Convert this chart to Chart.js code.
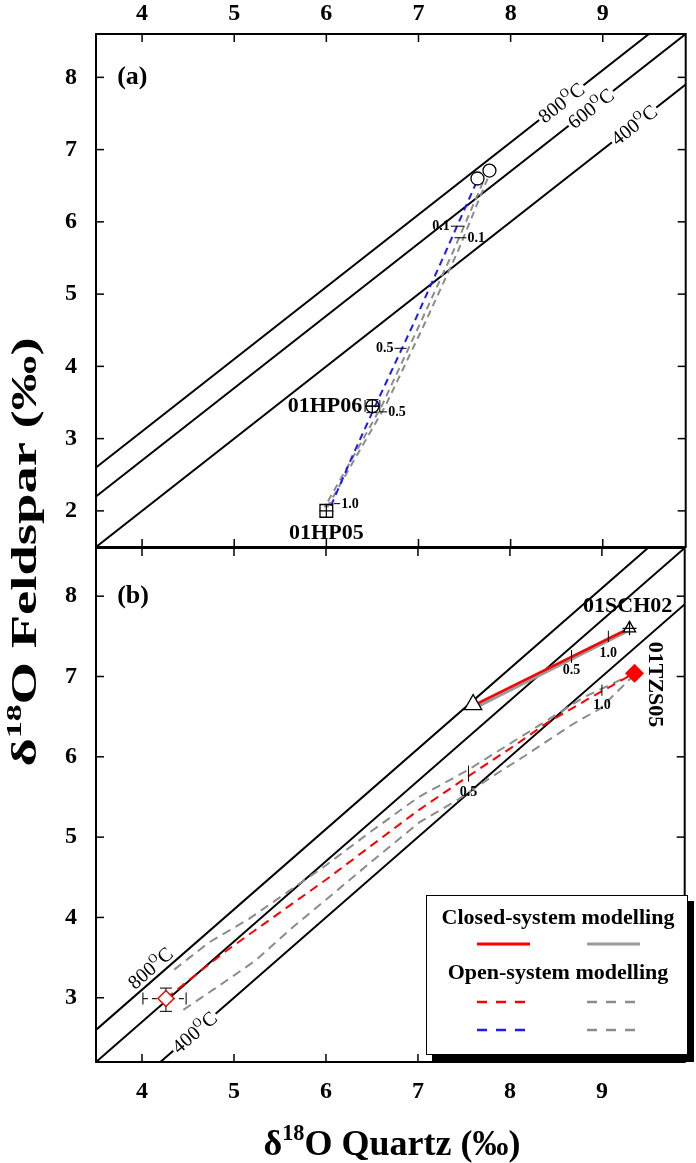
<!DOCTYPE html>
<html><head><meta charset="utf-8">
<script src="https://cdn.jsdelivr.net/npm/chart.js@4.4.1/dist/chart.umd.min.js"></script>
<style>
html,body{margin:0;padding:0;background:#fff;}
#wrap{position:relative;width:696px;height:1163px;overflow:hidden;}
canvas{position:absolute;left:0;top:0;}
</style></head><body>
<div id="wrap"><canvas id="ca" width="696" height="1163"></canvas><canvas id="cb" width="696" height="1163"></canvas></div>
<script>
// ---------- data ----------
const xTicks = [4, 5, 6, 7, 8, 9];
const yTicksA = [2, 3, 4, 5, 6, 7, 8];
const yTicksB = [3, 4, 5, 6, 7, 8];

// isotherms (quartz-feldspar equilibrium lines)
const iso800 = [{x:3.5,y:2.6},{x:10.5,y:9.6}];
const iso600 = [{x:3.5,y:2.2},{x:10.5,y:9.2}];
const iso400 = [{x:3.5,y:1.5},{x:10.5,y:8.5}];

// panel (a)
const circlesA = [{x:7.64,y:6.6},{x:7.77,y:6.71}];
const hp06 = [{x:6.5,y:3.45}];
const hp05 = [{x:6.0,y:2.0}];
const blueA  = [{x:7.63,y:6.55},{x:7.30,y:5.6},{x:6.96,y:4.63},{x:6.53,y:3.45},{x:6.28,y:2.75},{x:6.05,y:2.07}];
const grayA1 = [{x:7.70,y:6.55},{x:7.38,y:5.6},{x:7.02,y:4.6},{x:6.60,y:3.45},{x:6.27,y:2.7},{x:5.98,y:2.05}];
const grayA2 = [{x:7.75,y:6.6},{x:7.43,y:5.6},{x:7.07,y:4.6},{x:6.64,y:3.45},{x:6.30,y:2.7},{x:6.01,y:2.05}];
const hp06ErrX = [6.42, 6.58];
const hp06ErrY = [3.36, 3.54];

// panel (b)
const triLowB = [{x:7.6,y:6.65}];
const sch02 = [{x:9.3,y:7.6}];
const tzs05 = [{x:9.355,y:7.04}];
const startB = [{x:4.26,y:2.99}];
const startErrX = [4.01, 4.48];
const startErrY = [2.83, 3.12];
const closedRedB  = [{x:7.62,y:6.65},{x:9.3,y:7.6}];
const closedGrayB = [{x:7.6,y:6.61},{x:8.6,y:7.19},{x:9.3,y:7.59}];
const openRedB = [{x:4.26,y:2.99},{x:4.6,y:3.3},{x:4.9,y:3.57},{x:5.4,y:3.98},{x:6.0,y:4.47},{x:6.5,y:4.9},{x:7.0,y:5.33},{x:7.55,y:5.76},{x:8.05,y:6.14},{x:8.4,y:6.42},{x:8.85,y:6.72},{x:9.35,y:7.04}];
const openGrayB1 = [{x:4.35,y:3.35},{x:4.73,y:3.69},{x:5.16,y:3.98},{x:5.6,y:4.33},{x:6.0,y:4.65},{x:6.5,y:5.08},{x:7.01,y:5.5},{x:7.55,y:5.84},{x:8.05,y:6.2},{x:8.4,y:6.45},{x:8.8,y:6.74},{x:9.35,y:7.04}];
const openGrayB2 = [{x:4.45,y:2.85},{x:4.8,y:3.12},{x:5.23,y:3.46},{x:5.62,y:3.86},{x:6.0,y:4.22},{x:6.5,y:4.7},{x:7.01,y:5.18},{x:7.44,y:5.47},{x:7.8,y:5.75},{x:8.16,y:6.01},{x:8.66,y:6.39},{x:8.98,y:6.6},{x:9.35,y:7.02}];

// annotations (data coordinates)
const isoLabelsA = [{t:'800',x:8.55,y:7.65},{t:'600',x:8.87,y:7.57},{t:'400',x:9.34,y:7.34}];
const isoLabelsB = [{t:'800',x:4.09,y:3.37},{t:'400',x:4.57,y:2.57}];
const fracA = [
  {t:'0.1',x1:7.35,x2:7.50,y:5.94,side:'left'},
  {t:'0.1',x1:7.39,x2:7.52,y:5.78,side:'right'},
  {t:'0.5',x1:6.74,x2:6.87,y:4.25,side:'left'},
  {t:'0.5',x1:6.57,x2:6.66,y:3.37,side:'right'},
  {t:'1.0',x1:6.08,x2:6.15,y:2.1,side:'right'}
];
const fracB = [
  {t:'0.5',x:8.67,y1:7.17,y2:7.33,ty:7.08},
  {t:'1.0',x:9.07,y1:7.43,y2:7.57,ty:7.29},
  {t:'0.5',x:7.55,y1:5.69,y2:5.89,ty:5.56},
  {t:'1.0',x:9.0,y1:6.76,y2:6.90,ty:6.64}
];

// ---------- helpers ----------
const FONT = "'Liberation Serif','Times New Roman',Times,serif";
const RED = '#ff0000', BLUE = '#1a1aff', GRAY = '#8c8c8c';

function P(ch, x, y){ return [ch.scales.x.getPixelForValue(x), ch.scales.y.getPixelForValue(y)]; }
function measureRich(ctx, parts, size, weight){
  let w = 0;
  for (const p of parts){ const s = p.sup ? size*0.62 : size; ctx.font = `${weight} ${s}px ${FONT}`; w += ctx.measureText(p.t).width; }
  return w;
}
function drawRich(ctx, parts, x, y, size, weight, align){
  const w = measureRich(ctx, parts, size, weight);
  let cx = align === 'center' ? x - w/2 : (align === 'right' ? x - w : x);
  ctx.textBaseline = 'alphabetic'; ctx.textAlign = 'left';
  for (const p of parts){
    const s = p.sup ? size*0.62 : size;
    ctx.font = `${weight} ${s}px ${FONT}`;
    ctx.fillText(p.t, cx, y + size*0.33 - (p.sup ? size*0.42 : 0));
    cx += ctx.measureText(p.t).width;
  }
  return w;
}
function line(ctx, x1, y1, x2, y2){ ctx.beginPath(); ctx.moveTo(x1,y1); ctx.lineTo(x2,y2); ctx.stroke(); }
function text(ctx, t, x, y, size, weight, align){
  ctx.font = `${weight} ${size}px ${FONT}`; ctx.textAlign = align; ctx.textBaseline = 'middle'; ctx.fillStyle = '#000'; ctx.fillText(t, x, y);
}
function isoLabel(ch, ctx, L, size){
  const [X, Y] = P(ch, L.x, L.y);
  const [X2, Y2] = P(ch, L.x + 1, L.y + 1);
  const ang = Math.atan2(Y2 - Y, X2 - X);
  const parts = [{t:L.t},{t:'O',sup:true},{t:'C'}];
  ctx.save(); ctx.translate(X, Y); ctx.rotate(ang);
  const w = measureRich(ctx, parts, size, 'normal');
  ctx.fillStyle = '#fff'; ctx.fillRect(-w/2 - 2, -size*0.45, w + 4, size*0.9);
  ctx.fillStyle = '#000'; drawRich(ctx, parts, 0, 0, size, 'normal', 'center');
  ctx.restore();
}
function errBars(ch, ctx, x, y, ex, ey, dashX){
  const [X, Y] = P(ch, x, y);
  const xa = ch.scales.x.getPixelForValue(ex[0]), xb = ch.scales.x.getPixelForValue(ex[1]);
  const ya = ch.scales.y.getPixelForValue(ey[0]), yb = ch.scales.y.getPixelForValue(ey[1]);
  ctx.save(); ctx.strokeStyle = '#222'; ctx.lineWidth = 1.2;
  if (dashX) ctx.setLineDash([5,4]);
  line(ctx, xa, Y, xb, Y);
  ctx.setLineDash([]);
  line(ctx, xa, Y-6, xa, Y+6); line(ctx, xb, Y-6, xb, Y+6);
  line(ctx, X, ya, X, yb);
  line(ctx, X-6, ya, X+6, ya); line(ctx, X-6, yb, X+6, yb);
  ctx.restore();
}
function frame(ch, yTicks){
  const ctx = ch.ctx, a = ch.chartArea;
  ctx.save(); ctx.strokeStyle = '#000'; ctx.lineWidth = 1.5;
  for (const v of xTicks){ const X = ch.scales.x.getPixelForValue(v); line(ctx, X, a.top, X, a.top+8); line(ctx, X, a.bottom, X, a.bottom-8); }
  for (const v of yTicks){ const Y = ch.scales.y.getPixelForValue(v); line(ctx, a.left, Y, a.left+8, Y); line(ctx, a.right, Y, a.right-8, Y); }
  ctx.lineWidth = 2; ctx.strokeRect(a.left, a.top, a.right - a.left, a.bottom - a.top);
  ctx.restore();
}

function lineDS(data, color, width, dash, order){
  return {data, showLine:true, borderColor:color, backgroundColor:color, borderWidth:width, borderDash:dash||[], pointRadius:0, pointHoverRadius:0, tension:0, order};
}
function ptDS(data, style, r, border, fill, bw, order){
  return {data, showLine:false, pointStyle:style, pointRadius:r, pointHoverRadius:r, borderColor:border, backgroundColor:fill, pointBorderWidth:bw, borderWidth:bw, order};
}
const tickFont = {family:FONT, size:24, weight:'bold'};
function scales(posX, yMin, yMax, yTicks, xH, xPad){
  return {
    x: {type:'linear', position:posX, min:3.5, max:9.9,
        afterBuildTicks: s => { s.ticks = xTicks.map(v => ({value:v})); },
        afterFit: s => { s.height = xH; },
        grid:{display:false}, border:{display:false},
        ticks:{font:tickFont, color:'#000', padding:xPad, maxRotation:0}},
    y: {type:'linear', position:'left', min:yMin, max:yMax,
        afterBuildTicks: s => { s.ticks = yTicks.map(v => ({value:v})); },
        afterFit: s => { s.width = 96; },
        grid:{display:false}, border:{display:false},
        ticks:{font:tickFont, color:'#000', padding:11}}
  };
}
const common = {responsive:false, animation:false, events:[],
  plugins:{legend:{display:false}, tooltip:{enabled:false}}};

// ---------- panel (a) ----------
new Chart(document.getElementById('ca'), {
  type:'scatter',
  data:{datasets:[
    ptDS(circlesA, 'circle', 6.5, '#000', '#fff', 1.3, 0),
    ptDS(hp06, 'cross', 7, '#000', '#000', 1.2, 0),
    ptDS(hp06, 'circle', 6.5, '#000', 'rgba(255,255,255,0)', 1.3, 1),
    ptDS(hp05, 'cross', 7, '#000', '#000', 1.2, 0),
    ptDS(hp05, 'rect', 9, '#000', 'rgba(255,255,255,0)', 1.3, 1),
    lineDS(blueA, BLUE, 2, [7,5], 2),
    lineDS(grayA1, GRAY, 2, [7,5], 3),
    lineDS(grayA2, GRAY, 2, [7,5], 3),
    lineDS(iso800, '#000', 2, [], 4),
    lineDS(iso600, '#000', 2, [], 4),
    lineDS(iso400, '#000', 2, [], 4)
  ]},
  options:Object.assign({}, common, {
    layout:{padding:{top:0, left:0, right:3, bottom:616}},
    scales: scales('top', 1.5, 8.6, yTicksA, 34, -2)
  }),
  plugins:[{
    id:'decorA',
    beforeDatasetsDraw(ch){ errBars(ch, ch.ctx, hp06[0].x, hp06[0].y, hp06ErrX, hp06ErrY, false); },
    afterDatasetsDraw(ch){
      const ctx = ch.ctx;
      for (const L of isoLabelsA) isoLabel(ch, ctx, L, 20);
      ctx.save(); ctx.strokeStyle = '#000'; ctx.lineWidth = 1;
      for (const f of fracA){
        const [a1, Y] = P(ch, f.x1, f.y); const [a2] = P(ch, f.x2, f.y);
        line(ctx, a1, Y, a2, Y);
        if (f.side === 'left') text(ctx, f.t, a1 - 1, Y, 14, 'bold', 'right');
        else text(ctx, f.t, a2 + 1, Y + 1, 14, 'bold', 'left');
      }
      ctx.restore();
      let [X, Y] = P(ch, 6.39, 3.45); text(ctx, '01HP06', X, Y, 22, 'bold', 'right');
      [X, Y] = P(ch, 6.0, 1.69); text(ctx, '01HP05', X, Y, 22, 'bold', 'center');
      [X, Y] = P(ch, 3.73, 8.0); text(ctx, '(a)', X, Y, 26, 'bold', 'left');
    },
    afterDraw(ch){ frame(ch, yTicksA); }
  }]
});

// ---------- panel (b) ----------
new Chart(document.getElementById('cb'), {
  type:'scatter',
  data:{datasets:[
    ptDS(sch02, 'cross', 7, '#000', '#000', 1.2, 0),
    ptDS(sch02, 'triangle', 7, '#000', '#fff', 1.3, 1),
    ptDS(triLowB, 'triangle', 10, '#000', '#fff', 1.3, 1),
    ptDS(tzs05, 'rectRot', 9, RED, RED, 1, 1),
    ptDS(startB, 'rectRot', 8, RED, '#fff', 1.5, 1),
    lineDS(closedRedB, RED, 2.5, [], 2),
    lineDS(closedGrayB, '#9a9a9a', 5, [], 3),
    lineDS(openRedB, RED, 2, [9,6], 2),
    lineDS(openGrayB1, GRAY, 2, [9,6], 3),
    lineDS(openGrayB2, GRAY, 2, [9,6], 3),
    lineDS(iso800, '#000', 2, [], 4),
    lineDS(iso600, '#000', 2, [], 4),
    lineDS(iso400, '#000', 2, [], 4)
  ]},
  options:Object.assign({}, common, {
    layout:{padding:{top:548, left:0, right:3, bottom:0}},
    scales: scales('bottom', 2.2, 8.6, yTicksB, 101, 7)
  }),
  plugins:[{
    id:'decorB',
    beforeDatasetsDraw(ch){ errBars(ch, ch.ctx, startB[0].x, startB[0].y, startErrX, startErrY, true); },
    afterDatasetsDraw(ch){
      const ctx = ch.ctx;
      for (const L of isoLabelsB) isoLabel(ch, ctx, L, 20);
      ctx.save(); ctx.strokeStyle = '#000'; ctx.lineWidth = 1;
      for (const f of fracB){
        const [X, Y1] = P(ch, f.x, f.y1); const [, Y2] = P(ch, f.x, f.y2); const [, TY] = P(ch, f.x, f.ty);
        line(ctx, X, Y1, X, Y2);
        text(ctx, f.t, X, TY, 14, 'bold', 'center');
      }
      ctx.restore();
      let [X, Y] = P(ch, 9.28, 7.87); text(ctx, '01SCH02', X, Y, 22, 'bold', 'center');
      [X, Y] = P(ch, 9.57, 6.9);
      ctx.save(); ctx.translate(X, Y); ctx.rotate(Math.PI/2); text(ctx, '01TZS05', 0, 0, 22, 'bold', 'center'); ctx.restore();
      [X, Y] = P(ch, 3.73, 8.0); text(ctx, '(b)', X, Y, 26, 'bold', 'left');
    },
    afterDraw(ch){
      const ctx = ch.ctx;
      frame(ch, yTicksB);
      // legend box with shadow
      ctx.save();
      ctx.fillStyle = '#000'; ctx.fillRect(432, 901, 262, 161);
      ctx.fillStyle = '#fff'; ctx.fillRect(426, 895, 262, 160);
      ctx.strokeStyle = '#000'; ctx.lineWidth = 1; ctx.strokeRect(426.5, 895.5, 261, 159);
      text(ctx, 'Closed-system modelling', 558, 918, 22, 'bold', 'center');
      text(ctx, 'Open-system modelling', 558, 973, 22, 'bold', 'center');
      ctx.lineWidth = 3;
      ctx.strokeStyle = RED; line(ctx, 477, 944, 530, 944);
      ctx.strokeStyle = '#9a9a9a'; line(ctx, 587, 944, 640, 944);
      ctx.lineWidth = 2.5; ctx.setLineDash([10, 9]);
      ctx.strokeStyle = RED; line(ctx, 477, 1002, 525, 1002);
      ctx.strokeStyle = GRAY; line(ctx, 587, 1002, 635, 1002);
      ctx.strokeStyle = BLUE; line(ctx, 477, 1030, 525, 1030);
      ctx.strokeStyle = GRAY; line(ctx, 587, 1030, 635, 1030);
      ctx.setLineDash([]);
      ctx.restore();
      // axis titles
      ctx.save(); ctx.fillStyle = '#000';
      drawRich(ctx, [{t:'δ'},{t:'18',sup:true},{t:'O Quartz (‰)'}], 392, 1143, 36, 'bold', 'center');
      ctx.translate(24, 552); ctx.rotate(-Math.PI/2); ctx.scale(1.56, 1);
      drawRich(ctx, [{t:'δ'},{t:'18',sup:true},{t:'O Feldspar (‰)'}], 0, 0, 35, 'bold', 'center');
      ctx.restore();
    }
  }]
});
</script>
</body></html>
